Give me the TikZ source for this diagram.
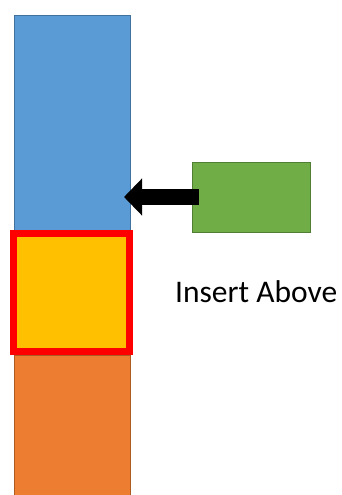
\documentclass[tikz,border=0pt]{standalone}
\usepackage{fontspec}
\setmainfont{Carlito}
\usepackage{tikz}
\usetikzlibrary{arrows.meta, positioning}
\definecolor{StackBlue}{RGB}{91, 155, 213}
\definecolor{StackBlueLine}{RGB}{65, 113, 156}
\definecolor{StackOrange}{RGB}{237, 125, 49}
\definecolor{StackOrangeLine}{RGB}{174, 90, 33}
\definecolor{StackYellow}{RGB}{255, 192, 0}
\definecolor{StackGreen}{RGB}{112, 173, 71}
\definecolor{StackGreenLine}{RGB}{80, 126, 50}
\definecolor{StackRed}{RGB}{255, 0, 0}
\begin{document}
\begin{tikzpicture}[
          x=1pt, y=-1pt,
          block/.style={
            rectangle,
            inner sep=0pt,
            outer sep=0pt,
            line width=0.8pt,
            minimum width=116pt
          },
          marked/.style={
            block,
            draw=StackRed,
            line width=7pt,
            fill=StackYellow
          },
          bigarrow/.style={-{Triangle[length=18pt, width=36pt]}, line width=16pt, black}
        ]
        \useasboundingbox (0,0) rectangle (342,495);
        \clip (0,0) rectangle (342,495);
        \node[block, draw=StackBlueLine, fill=StackBlue, minimum height=220pt] (blue) at (72,125) {};
        \node[block, draw=StackOrangeLine, fill=StackOrange, minimum height=150pt] (orange) at (72,430) {};
        \node[marked, minimum height=118pt] (current) at (71.5,292.5) {};
        \node[block, draw=StackGreenLine, fill=StackGreen, minimum width=118pt, minimum height=70pt] (newitem) at (251,197) {};
        \node[anchor=base west, inner sep=0pt, font=\fontsize{31.5}{38}\selectfont] (label) at (175,302) {Insert Above};
        \draw[bigarrow] ([xshift=7pt]newitem.west) -- ([xshift=-6pt]blue.east |- newitem.west);
      \end{tikzpicture}
\end{document}
